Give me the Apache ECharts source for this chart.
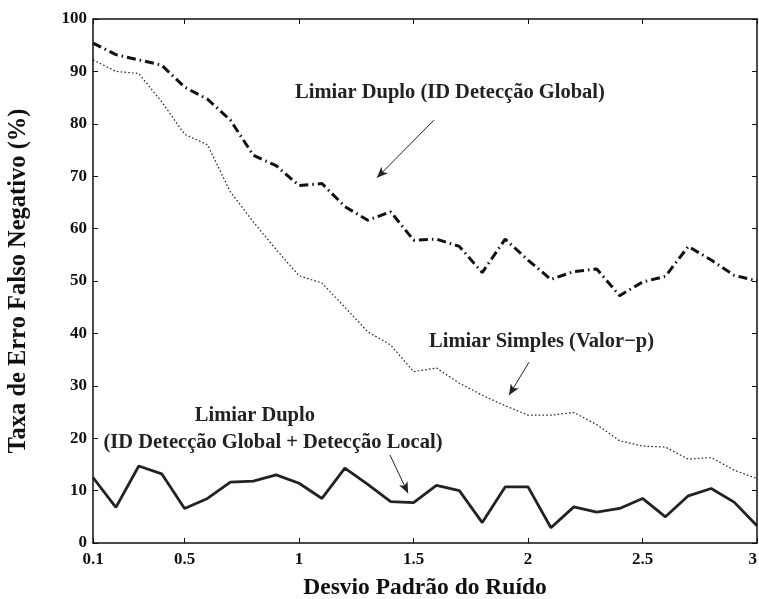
<!DOCTYPE html>
<html>
<head>
<meta charset="utf-8">
<script src="https://cdn.jsdelivr.net/npm/echarts@6/dist/echarts.min.js"></script>
<style>
  html, body { margin: 0; padding: 0; background: #fff; }
  #chart { width: 759px; height: 599px; }
</style>
</head>
<body>
<div id="chart"></div>
<script>
// Noise standard deviation (x) and false-negative rates (%) for each detector
const noiseStd = [0.1, 0.2, 0.3, 0.4, 0.5, 0.6, 0.7, 0.8, 0.9, 1.0,
                  1.1, 1.2, 1.3, 1.4, 1.5, 1.6, 1.7, 1.8, 1.9, 2.0,
                  2.1, 2.2, 2.3, 2.4, 2.5, 2.6, 2.7, 2.8, 2.9, 3.0];

const duploGlobal = [95.4, 93.2, 92.2, 91.2, 87.0, 84.7, 80.7, 74.0, 72.0, 68.2,
                     68.6, 64.2, 61.6, 63.2, 57.8, 58.0, 56.6, 51.6, 58.0, 54.0,
                     50.3, 51.8, 52.3, 47.2, 49.8, 50.9, 56.6, 54.0, 51.1, 50.0];

const simplesValorP = [92.2, 90.0, 89.6, 84.2, 78.0, 76.0, 67.0, 61.3, 56.0, 51.0,
                       49.6, 45.0, 40.3, 37.8, 32.7, 33.4, 30.5, 28.2, 26.2, 24.4,
                       24.4, 24.9, 22.6, 19.5, 18.5, 18.3, 16.0, 16.3, 13.9, 12.3];

const duploGlobalLocal = [12.5, 6.8, 14.7, 13.2, 6.6, 8.5, 11.6, 11.8, 13.0, 11.4,
                          8.5, 14.3, 11.2, 7.9, 7.7, 11.0, 10.0, 3.9, 10.7, 10.7,
                          2.9, 6.9, 5.9, 6.6, 8.5, 5.0, 9.0, 10.4, 7.8, 3.3];

const xTicks = [0.1, 0.5, 1, 1.5, 2, 2.5, 3];

// Annotation texts and arrows, placed in data coordinates
const notes = [
  { text: 'Limiar Duplo (ID Detecção Global)', at: [1.659, 85.9] },
  { text: 'Limiar Simples (Valor\u2212p)', at: [2.059, 38.5] },
  { text: 'Limiar Duplo', at: [0.807, 24.2] },
  { text: '(ID Detecção Global + Detecção Local)', at: [0.886, 19.1] }
];
const arrows = [
  [[1.589, 80.7], [1.340, 69.7]],
  [[2.004, 34.5], [1.917, 28.2]],
  [[1.397, 16.8], [1.476, 9.5]]
];

const pairs = ys => noiseStd.map((x, i) => [x, ys[i]]);

const FONT = 'Liberation Serif';
const BLACK = '#111';

const chart = echarts.init(document.getElementById('chart'), null, { renderer: 'canvas' });

const xBase = {
  type: 'value', min: 0.1, max: 3,
  axisLine: { show: true, onZero: false, lineStyle: { color: BLACK, width: 1.5 } },
  axisTick: { show: true, inside: true, length: 5, customValues: xTicks, lineStyle: { color: BLACK, width: 1 } },
  splitLine: { show: false }
};
const yBase = {
  type: 'value', min: 0, max: 100, interval: 10,
  axisLine: { show: true, onZero: false, lineStyle: { color: BLACK, width: 1.5 } },
  axisTick: { show: true, inside: true, length: 5, lineStyle: { color: BLACK, width: 1 } },
  splitLine: { show: false }
};

chart.setOption({
  animation: false,
  backgroundColor: '#fff',
  grid: { left: 93, right: 2, top: 19, bottom: 56, containLabel: false, outerBoundsMode: 'none' },
  xAxis: [
    Object.assign({}, xBase, {
      position: 'bottom',
      name: 'Desvio Padrão do Ruído',
      nameLocation: 'middle',
      nameGap: 33,
      nameTextStyle: { fontFamily: FONT, fontWeight: 'bold', fontSize: 23.5, color: BLACK },
      axisLabel: {
        show: true, customValues: xTicks, margin: 8, alignMaxLabel: 'right',
        fontFamily: FONT, fontWeight: 'bold', fontSize: 17, color: BLACK
      }
    }),
    Object.assign({}, xBase, { position: 'top', axisLabel: { show: false } })
  ],
  yAxis: [
    Object.assign({}, yBase, {
      position: 'left',
      name: 'Taxa de Erro Falso Negativo (%)',
      nameLocation: 'middle',
      nameGap: 62,
      nameTextStyle: { fontFamily: FONT, fontWeight: 'bold', fontSize: 24.5, color: BLACK },
      axisLabel: {
        show: true, margin: 6,
        fontFamily: FONT, fontWeight: 'bold', fontSize: 17, color: BLACK
      }
    }),
    Object.assign({}, yBase, { position: 'right', axisLabel: { show: false } })
  ],
  series: [
    {
      name: 'Limiar Duplo (ID Detecção Global)',
      type: 'line',
      data: pairs(duploGlobal),
      showSymbol: false,
      lineStyle: { color: BLACK, width: 3, type: [9, 4, 1.5, 4] }
    },
    {
      name: 'Limiar Simples (Valor-p)',
      type: 'line',
      data: pairs(simplesValorP),
      showSymbol: false,
      lineStyle: { color: '#222', width: 1.2, type: [1.6, 2.2] }
    },
    {
      name: 'Limiar Duplo (ID Detecção Global + Detecção Local)',
      type: 'line',
      data: pairs(duploGlobalLocal),
      showSymbol: false,
      lineStyle: { color: '#222', width: 2.8 },
      markLine: {
        silent: true,
        symbol: ['none', 'arrow'],
        symbolSize: [7, 11],
        lineStyle: { color: '#222', width: 1, type: 'solid' },
        label: { show: false },
        data: arrows.map(a => [{ coord: a[0] }, { coord: a[1] }])
      },
      markPoint: {
        silent: true,
        symbolSize: 0,
        label: {
          show: true, position: 'inside',
          fontFamily: FONT, fontWeight: 'bold', fontSize: 20.5, color: '#222'
        },
        data: notes.map(n => ({ coord: n.at, value: n.text, label: { formatter: n.text } }))
      }
    }
  ]
});
</script>
</body>
</html>
